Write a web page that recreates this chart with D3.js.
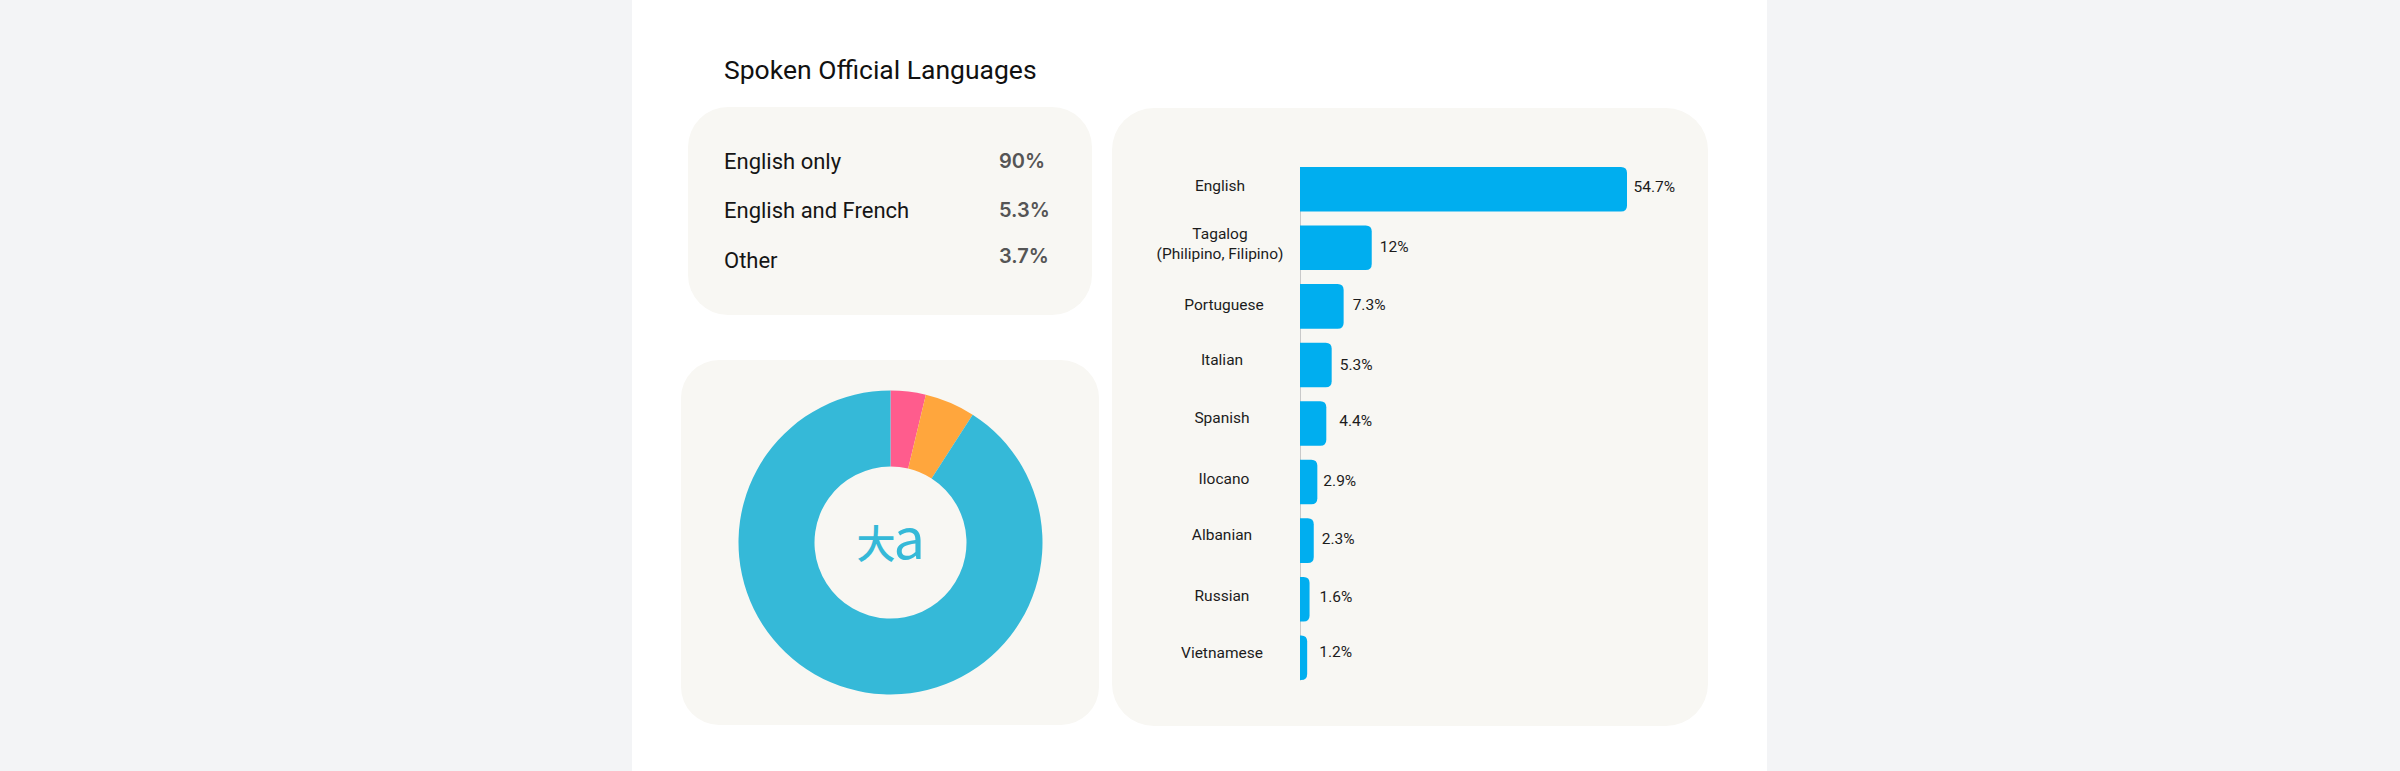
<!DOCTYPE html>
<html><head><meta charset="utf-8">
<script src="https://cdn.jsdelivr.net/npm/d3@7/dist/d3.min.js"></script>
<style>html,body{margin:0;padding:0;background:#f3f4f6}svg{display:block}text{font-family:Roboto,sans-serif}</style>
</head><body><svg id="c" width="2400" height="771"></svg>
<script>
const title = "Spoken Official Languages";
const officialNames = ["English only","English and French","Other"];
const officialLabels = ["90%","5.3%","3.7%"];
const donutOrder = ["Other","English and French","English only"];
const donutValues = [3.7,5.3,90];
const donutColors = ["#ff5c8d","#ffa63d","#35b9d8"];
const languages = ["English","Tagalog\n(Philipino, Filipino)","Portuguese","Italian","Spanish","Ilocano","Albanian","Russian","Vietnamese"];
const shares = [54.7,12,7.3,5.3,4.4,2.9,2.3,1.6,1.2];

// layout-only nudges for the hand-placed labels in the original
const valueDx = [6.5,8,9,8,13,6,8,10,12];
const valueDy = [-2.5,-1,-1.7,-0.3,-3.4,-1.5,-2,-2.7,-6.3];
const catDx = [-1,-1,3,1,1,3,1,1,1];
const catDy = [-4,-4.6,-1.7,-5.3,-5.9,-4,-6.6,-3.5,-5.3];
const valRowY=[168,216.5,263], nameRowY=[168.5,218,268];

const svg = d3.select("#c");
const panel="#f8f7f3";
svg.append("rect").attr("x",632).attr("y",0).attr("width",1135).attr("height",771).attr("fill","#fff");
svg.append("text").attr("x",724).attr("y",79).attr("font-size",26.5).attr("fill","#111").text(title);

function card(x,y,w,h,r){svg.append("rect").attr("x",x).attr("y",y).attr("width",w).attr("height",h).attr("rx",r).attr("fill",panel);}
card(688,107,404,208,40);
card(681,360,418,365,38);
card(1112,108,596,618,42);

officialNames.forEach((n,i)=>{
  svg.append("text").attr("x",724).attr("y",nameRowY[i]).attr("font-size",22).attr("fill","#151515").text(n);
  svg.append("text").attr("x",999).attr("y",valRowY[i]).attr("font-size",20).attr("font-weight",600)
    .style("font-family","Inter,sans-serif").attr("fill","#555").text(officialLabels[i]);
});

// donut
const cx=890.5,cy=542.5;
const pie=d3.pie().sort(null).value(d=>d)(donutValues);
const arc=d3.arc().innerRadius(76).outerRadius(152);
const g=svg.append("g").attr("transform",`translate(${cx},${cy})`);
g.selectAll("path").data(pie).join("path").attr("d",arc).attr("fill",(d,i)=>donutColors[i]);
g.append("text").attr("x",-34).attr("y",15).attr("font-size",39).attr("font-weight",500).attr("fill","#35b9d8")
  .style("font-family","'Noto Sans CJK SC'").text("大");
g.append("text").attr("x",3).attr("y",16).attr("font-size",56).attr("font-weight",400).attr("fill","#35b9d8")
  .style("font-family","'Noto Sans CJK SC'").text("a");

// bars
const x=d3.scaleLinear().domain([0,54.7]).range([1300,1627]);
const y=d3.scaleBand().domain(languages).range([167,680]).paddingInner(0.24).paddingOuter(0);
const bh=y.bandwidth();
const gAxis=svg.append("g").attr("transform","translate(1300,0)")
  .call(d3.axisLeft(y).tickSize(0).tickFormat(""));
gAxis.select(".domain").attr("stroke","#c9c9c9").attr("stroke-width",1);
const rr=6;
svg.selectAll(".bar").data(shares).join("path").attr("class","bar").attr("fill","#00aeef")
 .attr("d",(d,i)=>{
   const x0=x(0),x1=x(d),y0=y(languages[i]),y1=y0+bh,r=Math.min(rr,x1-x0);
   return `M${x0},${y0}H${x1-r}Q${x1},${y0} ${x1},${y0+r}V${y1-r}Q${x1},${y1} ${x1-r},${y1}H${x0}Z`;
 });
languages.forEach((l,i)=>{
  const c=y(l)+bh/2;
  const lines=l.split("\n");
  const t=svg.append("text").attr("text-anchor","middle").attr("font-size",15.5).attr("fill","#1c1c1c");
  lines.forEach((s,k)=>t.append("tspan").attr("x",1221+catDx[i])
    .attr("y",c+catDy[i]+5.5+(k-(lines.length-1)/2)*20).text(s));
  svg.append("text").attr("x",x(shares[i])+valueDx[i]).attr("y",c+valueDy[i]+5.5)
    .attr("font-size",15.5).attr("fill","#1c1c1c").text(shares[i]+"%");
});
</script></body></html>
